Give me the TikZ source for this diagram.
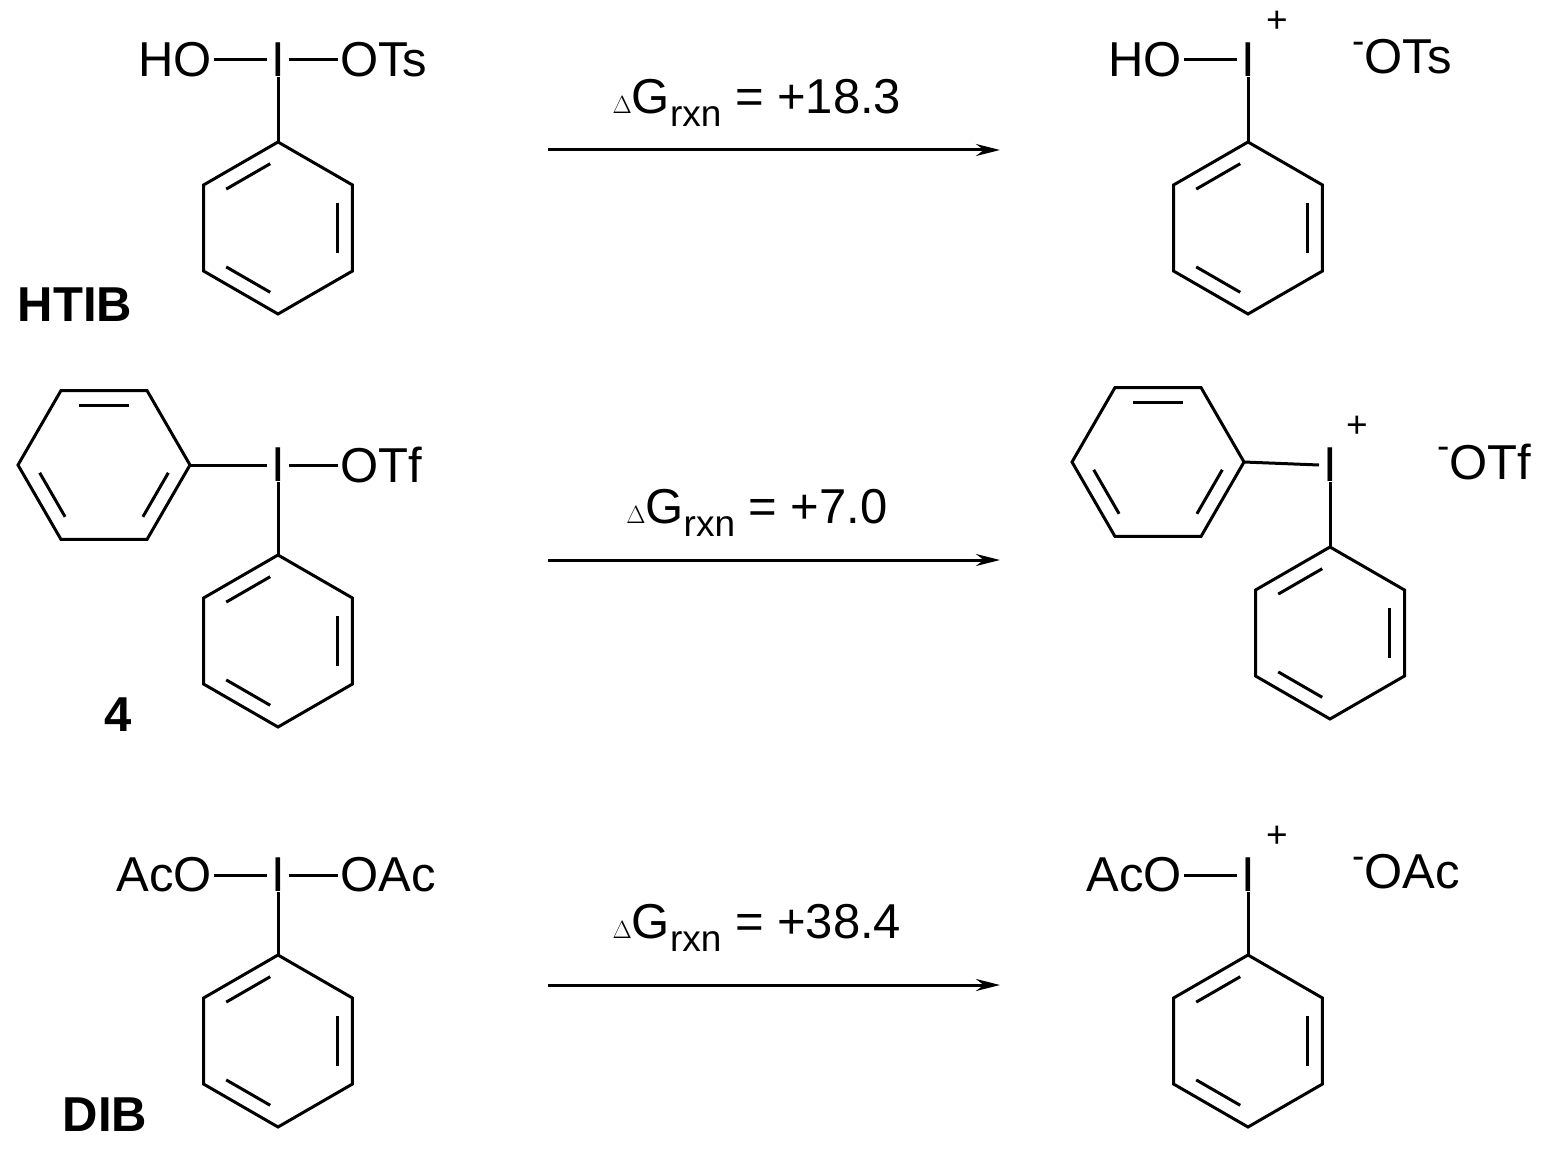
\documentclass[tikz,border=0pt]{standalone}
\usepackage{fontspec}
\setmainfont{Liberation Sans}
\usetikzlibrary{calc,arrows.meta}
\tikzset{bond/.style={line width=3pt}, t/.style={font=\fontsize{49}{58}\selectfont, inner sep=0pt},
 tb/.style={t, font=\fontsize{49}{58}\selectfont\bfseries}}
\newcommand\myring[4]{%
 \coordinate (#1c) at (#2,#3);
 \foreach \k in {1,...,6}{\coordinate (#1v\k) at ($(#1c)+(#4+60*\k-60:86)$);}
 \draw[bond,line join=miter] (#1v1)--(#1v2)--(#1v3)--(#1v4)--(#1v5)--(#1v6)--cycle;
 \foreach \p/\q in {2/3,4/5,6/1}{\draw[bond,shorten <=9pt,shorten >=9pt] ($(#1c)!0.8!(#1v\p)$)--($(#1c)!0.8!(#1v\q)$);}
}
\newcommand\dg[1]{$\Delta$G\raisebox{-0.28em}{\fontsize{37}{37}\selectfont rxn} = +#1}
\newcommand\anion[1]{\raisebox{0.42em}{\fontsize{37}{37}\selectfont -}#1}
\begin{document}
\begin{tikzpicture}[x=1pt,y=-1pt]
\useasboundingbox (0,0) rectangle (1562,1150);
% ---------- row 1
\node[t] (i1) at (278,60) {I};
\node[t,anchor=east] (ho1) at (212,60) {HO};
\node[t,anchor=west] (ots1) at (340,60) {OTs};
\draw[bond] (ho1.east)++(2,0) -- ($(i1.west)+(-4,0)$);
\draw[bond] ($(i1.east)+(4,0)$) -- ($(ots1.west)+(-2,0)$);
\myring{a}{278}{228}{-90}
\draw[bond] (i1.south)--(av1);
\node[tb] (htib) at (75,305) {HTIB};
\node[t] (i2) at (1248,60) {I};
\node[t,anchor=east] (ho2) at (1182,60) {HO};
\node[t] (p2) at (1277,22) {\fontsize{37}{37}\selectfont +};
\node[t,anchor=west] (ots2) at (1352,57) {\anion{OTs}};
\draw[bond] ($(ho2.east)+(2,0)$) -- ($(i2.west)+(-4,0)$);
\myring{b}{1248}{228}{-90}
\draw[bond] (i2.south)--(bv1);
\draw[bond,-{Stealth[length=24pt,width=12pt]}] (548,150) coordinate (r1s) -- (1000,150) coordinate (r1e);
\node[t] (dg1) at (757,103) {\dg{18.3}};
% ---------- row 2
\node[t] (i3) at (278,465) {I};
\node[t,anchor=west] (otf1) at (340,465) {OTf};
\myring{c}{104}{465}{180}
\draw[bond] (cv4)--($(i3.west)+(-4,0)$);
\draw[bond] ($(i3.east)+(4,0)$) -- ($(otf1.west)+(-2,0)$);
\myring{d}{278}{641}{-90}
\draw[bond] (i3.south)--(dv1);
\node[tb] (four) at (118,715) {4};
\node[t] (i4) at (1330,465) {I};
\node[t] (p4) at (1357,427) {\fontsize{37}{37}\selectfont +};
\node[t,anchor=west] (otf2) at (1437,462) {\anion{OTf}};
\myring{e}{1158}{462}{180}
\draw[bond] (ev4)--($(i4.west)+(-4,0)$);
\myring{f}{1330}{633}{-90}
\draw[bond] (i4.south)--(fv1);
\draw[bond,-{Stealth[length=24pt,width=12pt]}] (548,560) coordinate (r2s) -- (1000,560) coordinate (r2e);
\node[t] (dg2) at (757,513) {\dg{7.0}};
% ---------- row 3
\node[t] (i5) at (278,875) {I};
\node[t,anchor=east] (aco1) at (212,875) {AcO};
\node[t,anchor=west] (oac1) at (340,875) {OAc};
\draw[bond] ($(aco1.east)+(2,0)$) -- ($(i5.west)+(-4,0)$);
\draw[bond] ($(i5.east)+(4,0)$) -- ($(oac1.west)+(-2,0)$);
\myring{g}{278}{1041}{-90}
\draw[bond] (i5.south)--(gv1);
\node[tb] (dib) at (105,1115) {DIB};
\node[t] (i6) at (1248,875) {I};
\node[t,anchor=east] (aco2) at (1182,875) {AcO};
\node[t] (p6) at (1277,837) {\fontsize{37}{37}\selectfont +};
\node[t,anchor=west] (oac2) at (1352,872) {\anion{OAc}};
\draw[bond] ($(aco2.east)+(2,0)$) -- ($(i6.west)+(-4,0)$);
\myring{h}{1248}{1041}{-90}
\draw[bond] (i6.south)--(hv1);
\draw[bond,-{Stealth[length=24pt,width=12pt]}] (548,985) coordinate (r3s) -- (1000,985) coordinate (r3e);
\node[t] (dg3) at (757,928) {\dg{38.4}};
\end{tikzpicture}
\end{document}
